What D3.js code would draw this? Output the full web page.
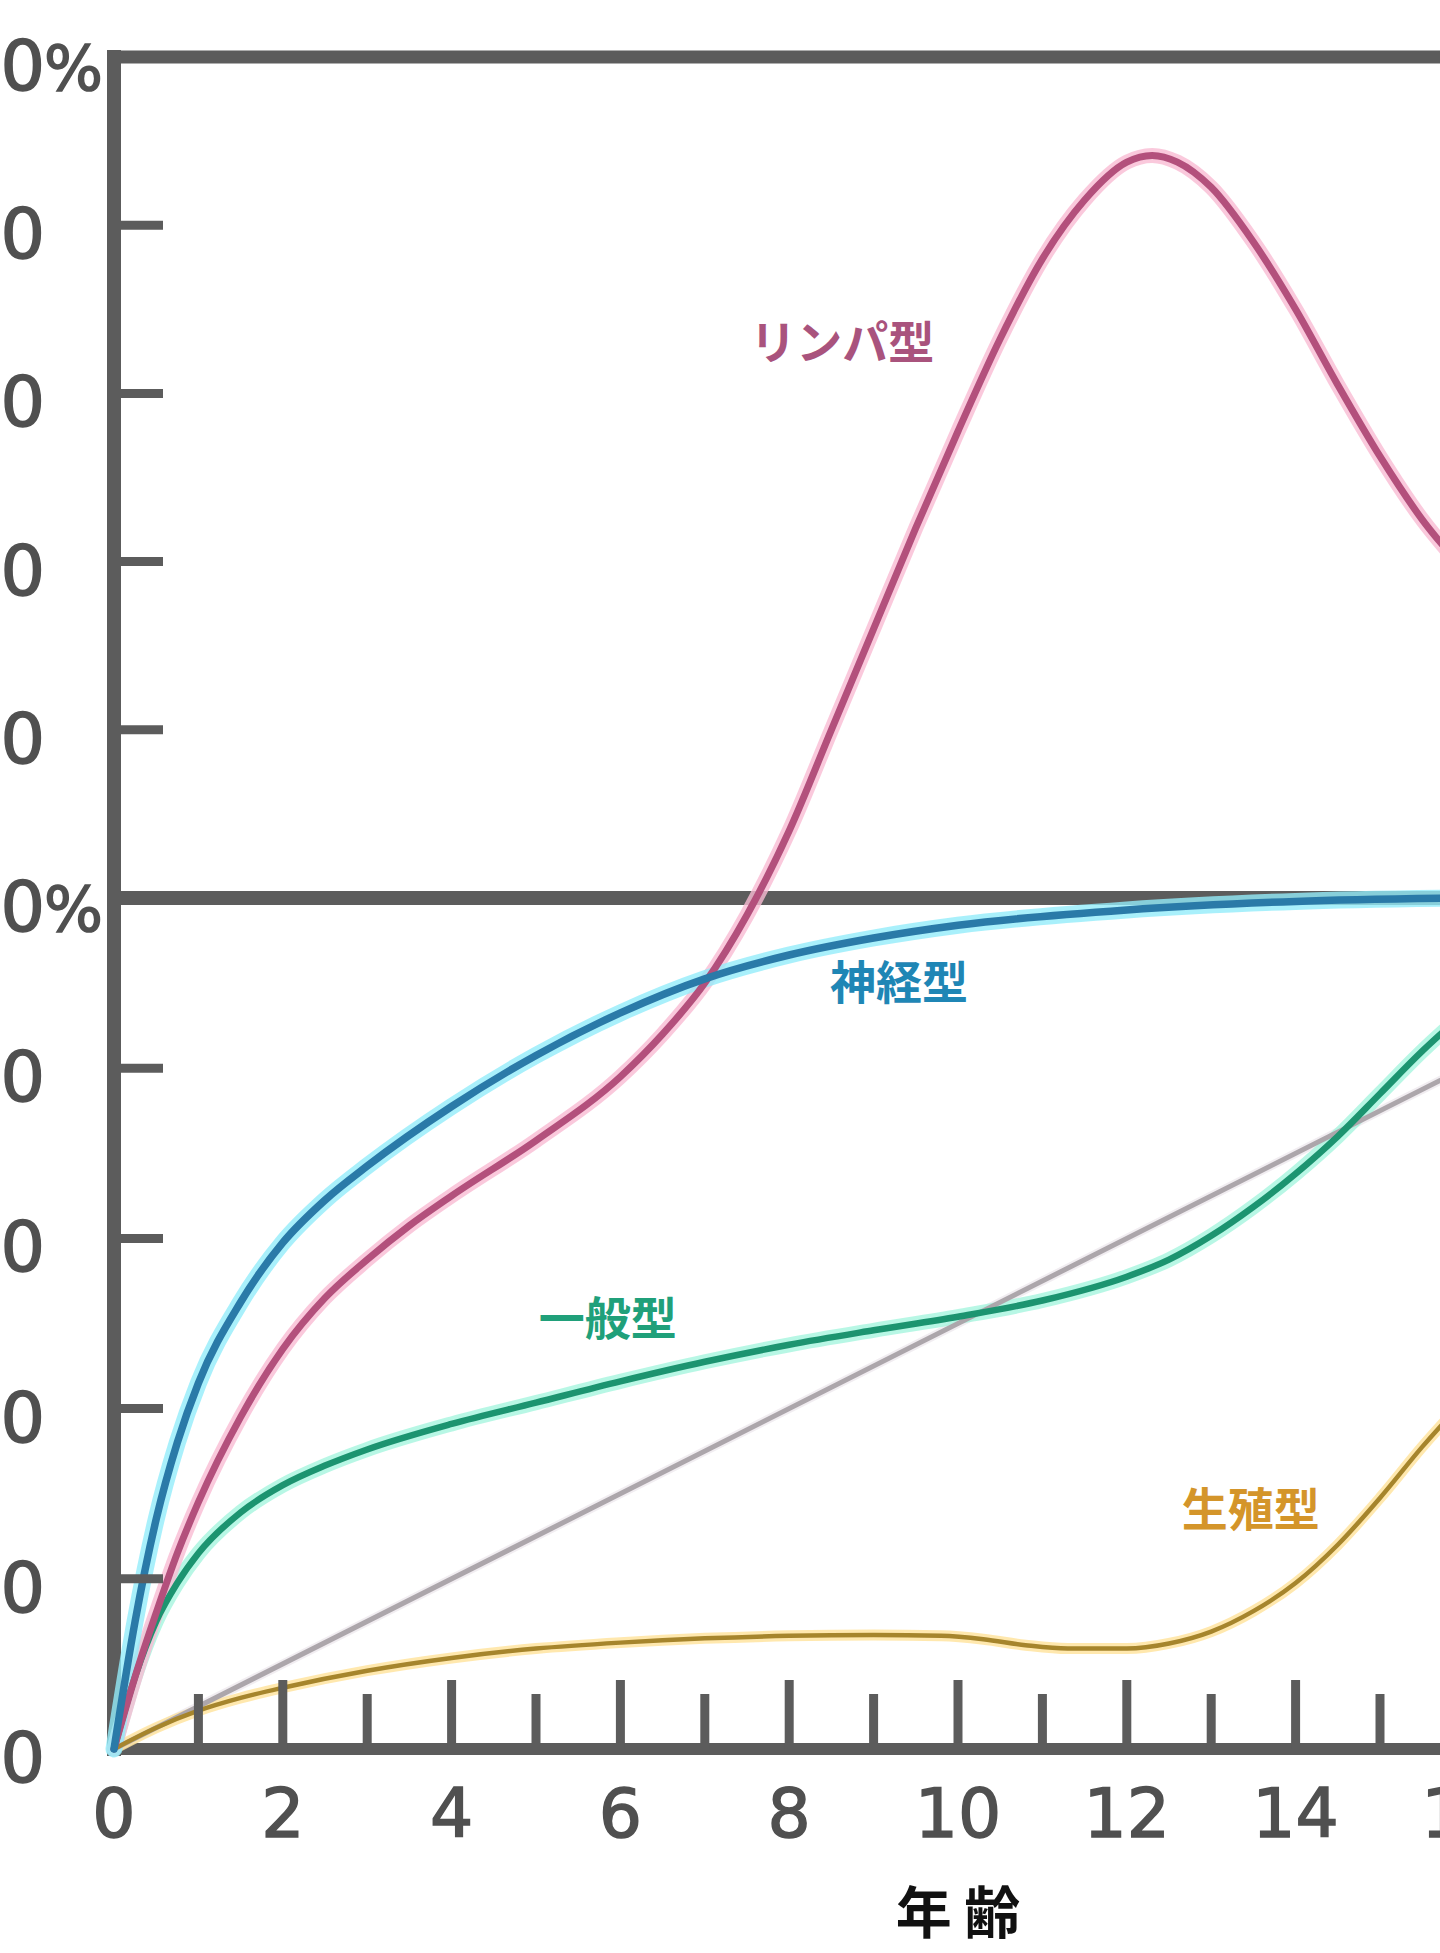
<!DOCTYPE html>
<html>
<head>
<meta charset="utf-8">
<script src="https://cdn.jsdelivr.net/npm/d3@7"></script>
<style>
html,body{margin:0;padding:0;background:#fff;overflow:hidden;}
svg{display:block;}
</style>
</head>
<body>
<svg id="chart" width="1440" height="1953"></svg>
<script>
// ---- data (age in years, value in %) ----
const lymphoid = [[0,0],[0.25,8.5],[0.5,16],[0.75,23],[1,29],[1.5,39],[2,47],[2.5,53],[3,57.5],[3.5,61.5],[4,65],[5,71.5],[6,79],[6.5,84],[7,90],[7.5,98],[8,108],[8.5,120],[9,132],[9.5,144],[10,155.5],[10.5,166.5],[11,176],[11.5,183],[12,187.5],[12.3,188.3],[12.6,187.5],[13,184.5],[13.5,178],[14,170],[14.5,161],[15,152.5],[15.5,145],[16,139]];
const neural = [[0,0],[0.25,15],[0.5,27],[0.75,36],[1,43],[1.5,52.5],[2,59.5],[2.5,64.5],[3,68.5],[4,75.5],[5,81.5],[6,86.5],[7,90.5],[8,93.3],[9,95.3],[10,96.8],[12,98.6],[14,99.6],[16,100]];
const general = [[0,0],[0.25,8.5],[0.5,15],[0.75,19.5],[1,23],[1.5,27.8],[2,31],[2.5,33.3],[3,35.2],[4,38.2],[5,40.7],[6,43.2],[7,45.5],[8,47.5],[9,49.2],[10,50.8],[11,52.7],[12,55.5],[12.5,57.5],[13,60.3],[13.5,63.7],[14,67.6],[14.5,72],[15,77],[15.5,82],[16,86.5]];
const reproductive = [[0,0],[0.5,2.5],[1,4.5],[1.5,6],[2,7.2],[3,9.2],[4,10.7],[5,11.8],[6,12.5],[7,13],[8,13.3],[9,13.4],[9.8,13.3],[10.3,12.9],[10.8,12.2],[11.3,11.8],[12,11.8],[12.5,12.4],[13,13.8],[13.5,16.2],[14,19.5],[14.5,24],[15,29.5],[15.5,35.5],[16,41]];
const reference = [[0,0],[16,80]];

const seriesNames = ["リンパ型","神経型","一般型","生殖型"];
const xTickValues = [1,2,3,4,5,6,7,8,9,10,11,12,13,14,15,16];
const xTickLabels = [0,2,4,6,8,10,12,14,16];
const yTickValues = [20,40,60,80,120,140,160,180];
const yTickLabels = ["0","20","40","60","80","100%","120","140","160","180","200%"];
const yLabelValues = [0,20,40,60,80,100,120,140,160,180,200];
const xTitle = "年 齢";

// ---- scales ----
const x = d3.scaleLinear().domain([0,16]).range([114,1464.4]);
const y = d3.scaleLinear().domain([0,100,200]).range([1749,898,57]);

const svg = d3.select("#chart");
svg.append("rect").attr("width",1440).attr("height",1953).attr("fill","#fff");

const axisColor = "#5c5c5c";

// frame lines
const frame = svg.append("g").attr("stroke",axisColor).attr("stroke-width",13).attr("stroke-linecap","square");
frame.append("line").attr("x1",x(0)).attr("x2",1450).attr("y1",y(200)).attr("y2",y(200));
frame.append("line").attr("x1",x(0)).attr("x2",1450).attr("y1",y(100)).attr("y2",y(100)).attr("stroke-width",14);
frame.append("line").attr("x1",x(0)).attr("x2",1450).attr("y1",y(0)).attr("y2",y(0)).attr("stroke-width",12);
frame.append("line").attr("x1",x(0)).attr("x2",x(0)).attr("y1",y(200)).attr("y2",y(0)).attr("stroke-width",14);

// curves
const line = d3.line().x(d=>x(d[0])).y(d=>y(d[1])).curve(d3.curveMonotoneX);
const curves = [
  {data:reference, core:"#aca6ab", halo:"#ede8ed", w:5, hw:9},
  {data:reproductive, core:"#a6852c", halo:"#ffe29a", w:4.5, hw:11},
  {data:general, core:"#1c9470", halo:"#a6f5de", w:6.5, hw:15},
  {data:lymphoid, core:"#b3507c", halo:"#f9bcd3", w:7, hw:15},
  {data:neural, core:"#2a7aa8", halo:"#94ecfa", w:7.5, hw:17}
];
const cg = svg.append("g").attr("fill","none").attr("stroke-linejoin","round").attr("stroke-linecap","round");
curves.forEach(c=>{
  cg.append("path").attr("d",line(c.data)).attr("stroke",c.halo).attr("stroke-width",c.hw).attr("opacity",0.8);
});
curves.forEach(c=>{
  cg.append("path").attr("d",line(c.data)).attr("stroke",c.core).attr("stroke-width",c.w);
});

// ticks
svg.append("g").selectAll("line").data(yTickValues).join("line")
  .attr("x1",x(0)).attr("x2",163).attr("y1",d=>y(d)).attr("y2",d=>y(d))
  .attr("stroke",axisColor).attr("stroke-width",9);
svg.append("g").selectAll("line").data(xTickValues).join("line")
  .attr("x1",d=>x(d)).attr("x2",d=>x(d))
  .attr("y1",y(0)).attr("y2",d=> d%2===0 ? 1680 : 1694)
  .attr("stroke",axisColor).attr("stroke-width",9);

// x tick labels
svg.append("g").selectAll("text").data(xTickLabels).join("text")
  .attr("x",d=>x(d)).attr("y",1837)
  .attr("text-anchor","middle")
  .attr("font-family","DejaVu Sans, sans-serif").attr("font-size",68)
  .attr("fill","#505050").attr("stroke","#505050").attr("stroke-width",1.5)
  .text(d=>d);

// y tick labels (number part right-aligned, % after)
const yl = svg.append("g").attr("font-family","DejaVu Sans, sans-serif").attr("font-size",70)
  .attr("fill","#505050").attr("stroke","#505050").attr("stroke-width",1.5);
yLabelValues.forEach((v,i)=>{
  const lab = yTickLabels[i];
  const num = lab.replace("%","");
  yl.append("text").attr("x",45).attr("y",y(v)+33).attr("text-anchor","end").text(num);
  if(lab.endsWith("%")){
    yl.append("text").attr("x",44).attr("y",y(v)+33).attr("text-anchor","start").attr("font-size",62).text("%");
  }
});

// series labels
const labels = [
  {t:seriesNames[0], age:8.63, v:166.5, c:"#a9537d"},
  {t:seriesNames[1], age:9.3, v:90.5, c:"#1f86b5"},
  {t:seriesNames[2], age:5.85, v:51, c:"#20a07a"},
  {t:seriesNames[3], age:13.47, v:28.5, c:"#d4952a"}
];
svg.append("g").selectAll("text").data(labels).join("text")
  .attr("x",d=>x(d.age)).attr("y",d=>y(d.v))
  .attr("text-anchor","middle").attr("dominant-baseline","central")
  .attr("font-family","Noto Sans CJK JP, sans-serif").attr("font-weight",700)
  .attr("font-size",46).attr("fill",d=>d.c)
  .text(d=>d.t);

// x title
svg.append("text").attr("x",x(10)).attr("y",1908)
  .attr("text-anchor","middle").attr("dominant-baseline","central")
  .attr("font-family","Noto Sans CJK JP, sans-serif").attr("font-weight",700)
  .attr("font-size",56).attr("fill","#111")
  .text(xTitle);
</script>
</body>
</html>
